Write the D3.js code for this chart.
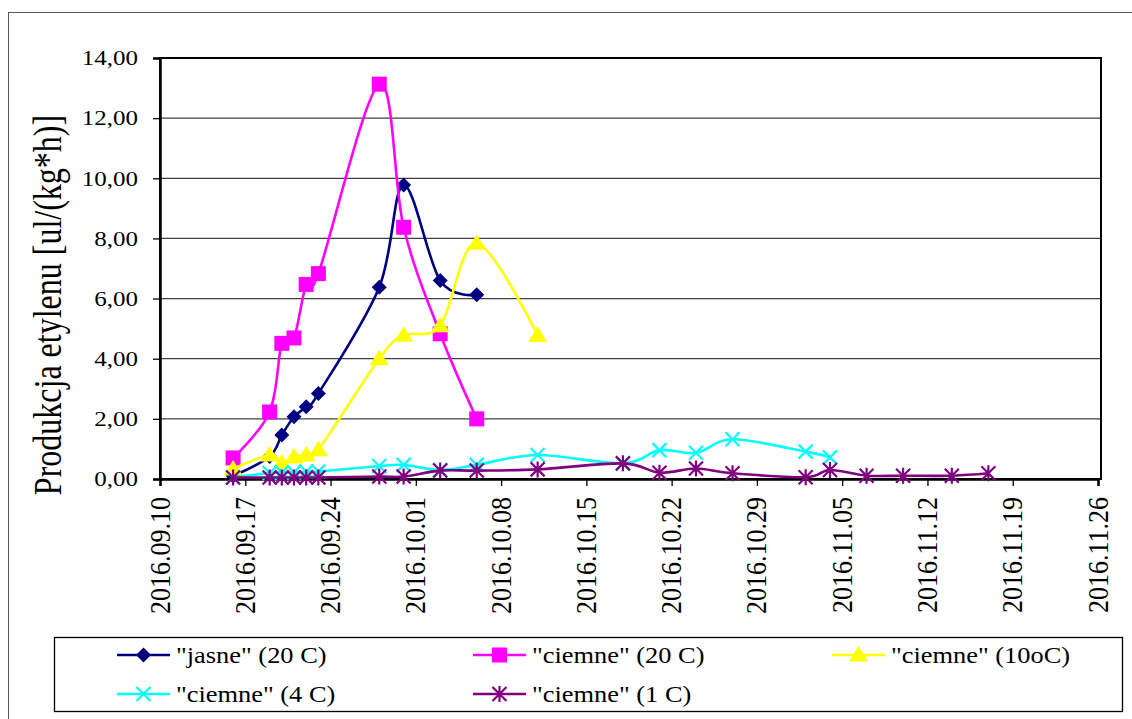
<!DOCTYPE html>
<html>
<head>
<meta charset="utf-8">
<script src="https://cdn.jsdelivr.net/npm/d3@7"></script>
<style>
  html, body { margin: 0; padding: 0; background: #fff; }
  svg { display: block; }
  svg text { font-family: "Liberation Serif", "Times New Roman", Tinos, "DejaVu Serif", serif; fill: #000; }
</style>
</head>
<body>
<svg id="chart" width="1132" height="719"></svg>
<script>
// ---------- DATA ----------
const xTickLabels = ["2016.09.10","2016.09.17","2016.09.24","2016.10.01","2016.10.08","2016.10.15",
                     "2016.10.22","2016.10.29","2016.11.05","2016.11.12","2016.11.19","2016.11.26"];
const yTickValues = [0, 2, 4, 6, 8, 10, 12, 14];
const yTickLabels = ["0,00","2,00","4,00","6,00","8,00","10,00","12,00","14,00"];
const yTitle = "Produkcja etylenu [ul/(kg*h)]";

const seriesNames = ['"jasne" (20 C)', '"ciemne" (20 C)', '"ciemne" (10oC)', '"ciemne" (4 C)', '"ciemne" (1 C)'];

const jasne20Dates  = ["2016.09.16","2016.09.19","2016.09.20","2016.09.21","2016.09.22","2016.09.23","2016.09.28","2016.09.30","2016.10.03","2016.10.06"];
const jasne20Values = [0.10, 0.75, 1.46, 2.07, 2.40, 2.84, 6.38, 9.78, 6.60, 6.13];

const ciemne20Dates  = ["2016.09.16","2016.09.19","2016.09.20","2016.09.21","2016.09.22","2016.09.23","2016.09.28","2016.09.30","2016.10.03","2016.10.06"];
const ciemne20Values = [0.70, 2.23, 4.51, 4.69, 6.47, 6.83, 13.13, 8.37, 4.83, 2.00];

const ciemne10Dates  = ["2016.09.16","2016.09.19","2016.09.20","2016.09.21","2016.09.22","2016.09.23","2016.09.28","2016.09.30","2016.10.03","2016.10.06","2016.10.11"];
const ciemne10Values = [0.33, 0.80, 0.53, 0.73, 0.80, 0.97, 4.00, 4.78, 5.10, 7.84, 4.78];

const ciemne4Dates  = ["2016.09.16","2016.09.19","2016.09.20","2016.09.21","2016.09.22","2016.09.23","2016.09.28","2016.09.30","2016.10.03","2016.10.06","2016.10.11","2016.10.18","2016.10.21","2016.10.24","2016.10.27","2016.11.02","2016.11.04"];
const ciemne4Values = [0.05, 0.20, 0.22, 0.22, 0.25, 0.25, 0.43, 0.47, 0.30, 0.47, 0.80, 0.52, 0.96, 0.87, 1.32, 0.91, 0.72];

const ciemne1Dates  = ["2016.09.16","2016.09.19","2016.09.20","2016.09.21","2016.09.22","2016.09.23","2016.09.28","2016.09.30","2016.10.03","2016.10.06","2016.10.11","2016.10.18","2016.10.21","2016.10.24","2016.10.27","2016.11.02","2016.11.04","2016.11.07","2016.11.10","2016.11.14","2016.11.17"];
const ciemne1Values = [0.05, 0.05, 0.05, 0.05, 0.05, 0.05, 0.08, 0.08, 0.28, 0.28, 0.32, 0.52, 0.21, 0.35, 0.19, 0.06, 0.30, 0.11, 0.11, 0.11, 0.19];

const seriesColors = ["#000080", "#FF00FF", "#FFFF00", "#00FFFF", "#800080"];
const seriesMarkers = ["diamond", "square", "triangle", "x", "star"];

// ---------- SETUP ----------
const FONT = '"Liberation Serif", "Times New Roman", Tinos, "DejaVu Serif", serif';
const parse = d3.timeParse("%Y.%m.%d");
const svg = d3.select("#chart");

const plot = { left: 160, right: 1101, top: 58, bottom: 479 };

const x = d3.scaleTime()
  .domain([parse(xTickLabels[0]), parse(xTickLabels[xTickLabels.length - 1])])
  .range([plot.left, 1098]);
const y = d3.scaleLinear().domain([0, 14]).range([plot.bottom, plot.top]);

// outer chart border
svg.append("rect").attr("x", 8.5).attr("y", 12.5).attr("width", 1130).attr("height", 720)
  .attr("fill", "none").attr("stroke", "#555").attr("stroke-width", 1);

// gridlines
svg.append("g").selectAll("line").data(yTickValues.filter(v => v > 0)).join("line")
  .attr("x1", plot.left).attr("x2", plot.right)
  .attr("y1", d => y(d)).attr("y2", d => y(d))
  .attr("stroke", "#404040").attr("stroke-width", 1.3);

// plot border
svg.append("rect").attr("x", plot.left).attr("y", plot.top)
  .attr("width", plot.right - plot.left).attr("height", plot.bottom - plot.top)
  .attr("fill", "none").attr("stroke", "#000").attr("stroke-width", 2);

// Y axis
const yAxis = d3.axisLeft(y).tickValues(yTickValues)
  .tickFormat((d, i) => yTickLabels[i]).tickSizeOuter(0).tickSize(7).tickPadding(0);
const gy = svg.append("g").attr("transform", `translate(${plot.left},0)`).call(yAxis)
  .attr("font-family", FONT);
gy.select(".domain").attr("stroke", "#000").attr("stroke-width", 2.5);
gy.selectAll(".tick line").attr("stroke", "#000").attr("stroke-width", 1.3);
gy.selectAll(".tick text")
  .attr("x", null).attr("dy", "0.34em")
  .attr("transform", "translate(-22,0) scale(1.25,1)")
  .style("font-size", "20px").style("font-family", FONT);

// X axis
const xAxis = d3.axisBottom(x).tickValues(xTickLabels.map(parse))
  .tickFormat((d, i) => xTickLabels[i]).tickSizeOuter(0).tickSize(7).tickPadding(0);
const gx = svg.append("g").attr("transform", `translate(0,${plot.bottom})`).call(xAxis)
  .attr("font-family", FONT);
gx.select(".domain").attr("stroke", "#000").attr("stroke-width", 2.5);
gx.selectAll(".tick line").attr("stroke", "#000").attr("stroke-width", 1.3);
gx.selectAll(".tick text")
  .attr("y", null).attr("dy", null)
  .attr("text-anchor", "end")
  .attr("transform", "translate(9,18) rotate(-90) scale(1,1.15)")
  .style("font-size", "26px").style("font-family", FONT);

// Y title
svg.append("text")
  .attr("transform", "translate(61,305) rotate(-90) scale(1,1.28)")
  .attr("text-anchor", "middle")
  .style("font-size", "32px").style("font-family", FONT)
  .text(yTitle);

// ---------- MARKERS ----------
function markerPath(type) {
  switch (type) {
    case "diamond": return "M0,-7.5L7.5,0L0,7.5L-7.5,0Z";
    case "square": return "M-7.5,-7.5H7.5V7.5H-7.5Z";
    case "triangle": return "M0,-9L9.5,6.5L-9.5,6.5Z";
    case "x": return "M-7,-7L7,7M-7,7L7,-7";
    case "star": return "M-7,-7L7,7M-7,7L7,-7M0,-8V8";
  }
}
function drawMarker(sel, type, color) {
  const filled = (type === "diamond" || type === "square" || type === "triangle");
  sel.attr("d", markerPath(type))
    .attr("fill", filled ? color : "none")
    .attr("stroke", color)
    .attr("stroke-width", filled ? 0 : 2.2);
}

const seriesData = [
  [jasne20Dates, jasne20Values],
  [ciemne20Dates, ciemne20Values],
  [ciemne10Dates, ciemne10Values],
  [ciemne4Dates, ciemne4Values],
  [ciemne1Dates, ciemne1Values]
].map(([ds, vs]) => ds.map((d, i) => ({ date: parse(d), value: vs[i] })));

const line = d3.line().x(d => x(d.date)).y(d => y(d.value)).curve(d3.curveCardinal.tension(0));

const gSeries = svg.append("g");
seriesData.forEach((data, si) => {
  const g = gSeries.append("g");
  g.append("path").datum(data).attr("d", line)
    .attr("fill", "none").attr("stroke", seriesColors[si]).attr("stroke-width", 2.6);
  g.selectAll("path.m").data(data).join("path").attr("class", "m")
    .attr("transform", d => `translate(${x(d.date)},${y(d.value)})`)
    .call(drawMarker, seriesMarkers[si], seriesColors[si]);
});

// ---------- LEGEND ----------
const legend = svg.append("g");
legend.append("rect").attr("x", 54.5).attr("y", 637.5).attr("width", 1068).attr("height", 74)
  .attr("fill", "#fff").attr("stroke", "#000").attr("stroke-width", 1.3);
const legCols = [117, 473, 832];
const legRows = [655, 694];
seriesNames.forEach((name, i) => {
  const lx = legCols[i % 3], ly = legRows[Math.floor(i / 3)];
  const g = legend.append("g").attr("transform", `translate(${lx},${ly})`);
  g.append("line").attr("x1", 0).attr("x2", 53).attr("y1", 0).attr("y2", 0)
    .attr("stroke", seriesColors[i]).attr("stroke-width", 2.6);
  g.append("path").attr("transform", "translate(26.5,0)")
    .call(drawMarker, seriesMarkers[i], seriesColors[i]);
  g.append("text").attr("transform", "translate(59,0) scale(1.1,1)")
    .attr("dy", "0.35em").style("font-size", "24px").style("font-family", FONT).text(name);
});
</script>
</body>
</html>
